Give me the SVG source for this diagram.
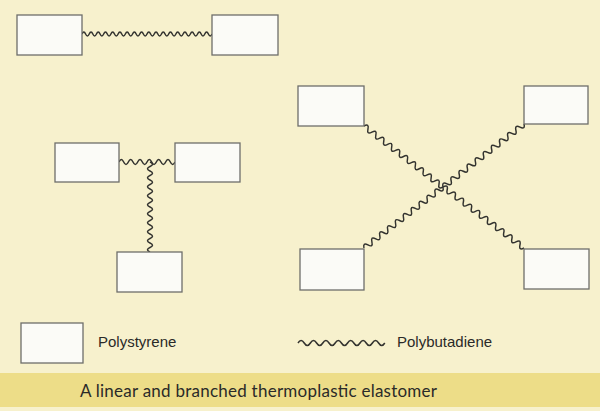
<svg xmlns="http://www.w3.org/2000/svg" width="600" height="411" viewBox="0 0 600 411">
<style>
.box{fill:#fbfbf7;stroke:#6e6e6a;stroke-width:1.3}
.wave{fill:none;stroke:#33332f;stroke-width:1.5;stroke-linejoin:round}
.lbl{font-family:"Liberation Sans",Arial,sans-serif;font-size:15px;fill:#2a2a28}
.cap{font-family:Lato,"Liberation Sans",sans-serif;font-size:17px;fill:#2a2a28}
</style>
<rect x="0" y="0" width="600" height="411" fill="#f7f1cd"/>
<rect x="0" y="373" width="600" height="34" fill="#eddd88"/>
<g id="connectors">
<path class="wave" transform="translate(82,34)" d="M0,0q1.805,-4 3.611,0t3.611,0t3.611,0t3.611,0t3.611,0t3.611,0t3.611,0t3.611,0t3.611,0t3.611,0t3.611,0t3.611,0t3.611,0t3.611,0t3.611,0t3.611,0t3.611,0t3.611,0t3.611,0t3.611,0t3.611,0t3.611,0t3.611,0t3.611,0t3.611,0t3.611,0t3.611,0t3.611,0t3.611,0t3.611,0t3.611,0t3.611,0t3.611,0t3.611,0t3.611,0t3.611,0"/>
<path class="wave" transform="translate(119,162)" d="M0,0q2.333,-5 4.667,0t4.667,0t4.667,0t4.667,0t4.667,0t4.667,0t4.667,0t4.667,0t4.667,0t4.667,0t4.667,0t4.667,0"/>
<path class="wave" transform="translate(150,162) rotate(90)" d="M0,0q2.25,-5 4.5,0t4.5,0t4.5,0t4.5,0t4.5,0t4.5,0t4.5,0t4.5,0t4.5,0t4.5,0t4.5,0t4.5,0t4.5,0t4.5,0t4.5,0t4.5,0t4.5,0t4.5,0t4.5,0t4.5,0"/>
<path class="wave" transform="translate(364,126) rotate(37.7)" d="M0,0q2.495,-5.5 4.99,0t4.99,0t4.99,0t4.99,0t4.99,0t4.99,0t4.99,0t4.99,0t4.99,0t4.99,0t4.99,0t4.99,0t4.99,0t4.99,0t4.99,0t4.99,0t4.99,0t4.99,0t4.99,0t4.99,0"/>
<path class="wave" transform="translate(524,124) rotate(142.1)" d="M0,0q2.565,-5.5 5.13,0t5.13,0t5.13,0t5.13,0t5.13,0t5.13,0t5.13,0t5.13,0t5.13,0t5.13,0t5.13,0t5.13,0t5.13,0t5.13,0t5.13,0t5.13,0t5.13,0t5.13,0t5.13,0t5.13,0"/>
<path class="wave" transform="translate(364,248) rotate(-37.7)" d="M0,0q2.495,-5.5 4.99,0t4.99,0t4.99,0t4.99,0t4.99,0t4.99,0t4.99,0t4.99,0t4.99,0t4.99,0t4.99,0t4.99,0t4.99,0t4.99,0t4.99,0t4.99,0t4.99,0t4.99,0t4.99,0t4.99,0"/>
<path class="wave" transform="translate(524,248) rotate(-142.9)" d="M0,0q2.535,-5.5 5.07,0t5.07,0t5.07,0t5.07,0t5.07,0t5.07,0t5.07,0t5.07,0t5.07,0t5.07,0t5.07,0t5.07,0t5.07,0t5.07,0t5.07,0t5.07,0t5.07,0t5.07,0t5.07,0t5.07,0"/>
</g>
<g id="linear-left"><rect class="box" x="17" y="15" width="65" height="40"/></g>
<g id="linear-right"><rect class="box" x="212" y="15" width="66" height="40"/></g>
<g id="t-left"><rect class="box" x="55" y="143" width="64" height="39"/></g>
<g id="t-right"><rect class="box" x="175" y="143" width="65" height="39"/></g>
<g id="t-bottom"><rect class="box" x="117" y="252" width="65" height="40"/></g>
<g id="x-tl"><rect class="box" x="298" y="86" width="66" height="40"/></g>
<g id="x-tr"><rect class="box" x="524" y="86" width="64" height="38"/></g>
<g id="x-bl"><rect class="box" x="300" y="249" width="64" height="41"/></g>
<g id="x-br"><rect class="box" x="524" y="249" width="65" height="40"/></g>
<g id="legend-polystyrene">
<rect class="box" x="21" y="323" width="62" height="40"/>
<text class="lbl" x="98" y="347">Polystyrene</text>
</g>
<g id="legend-polybutadiene">
<path class="wave" transform="translate(298,343)" d="M0,0q3.1,-5 6.2,0t6.2,0t6.2,0t6.2,0t6.2,0t6.2,0t6.2,0t6.2,0t6.2,0t6.2,0t6.2,0t6.2,0t6.2,0t6.2,0"/>
<text class="lbl" x="397" y="347">Polybutadiene</text>
</g>
<text class="cap" x="80" y="397" textLength="357" lengthAdjust="spacing">A linear and branched thermoplastic elastomer</text>
</svg>
